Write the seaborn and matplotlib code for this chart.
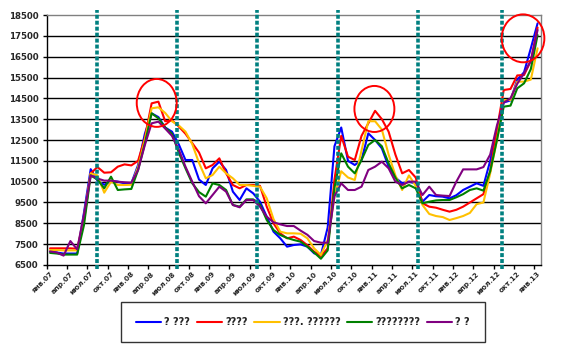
import numpy as np
import pandas as pd
import matplotlib
matplotlib.use("Agg")
import matplotlib.pyplot as plt
import seaborn as sns
from matplotlib.patches import Ellipse
from matplotlib.lines import Line2D
import matplotlib.transforms as mtransforms

# Monthly series, Jan 2007 .. Jan 2013 (73 months)
series_names = ["? ???", "????", "???. ??????", "????????", "? ?"]
series_colors = ["#0000FF", "#FF0000", "#FFC000", "#008000", "#800080"]

blue = [7150, 7100, 7050, 7050, 7050, 9000, 11100, 10550, 10350, 10530,
        10500, 10420, 10420, 11300, 12800, 13780, 13600, 13100, 12900, 12300,
        11540, 11540, 10600, 10340, 11140, 11460, 11060, 10020, 9620, 10180,
        9940, 9540, 8820, 8100, 7780, 7380, 7460, 7490, 7380, 7060,
        6980, 8300, 12200, 13100, 11500, 11300, 11540, 12820, 12500, 12100,
        11220, 10700, 10420, 10500, 10420, 9540, 9860, 9800, 9780, 9700,
        9850, 10100, 10260, 10420, 10300, 11500, 13000, 14300, 14400, 15400,
        15750, 16900, 18100]
red = [7300, 7300, 7300, 7300, 7280, 8600, 10900, 11200, 10930, 10950,
       11220, 11330, 11280, 11500, 12600, 14260, 14340, 13400, 13450, 13150,
       12800, 12350, 11900, 11140, 11300, 11620, 10900, 10340, 10180, 10340,
       10340, 10300, 9300, 8500, 8020, 7780, 7860, 7700, 7450, 7140,
       6930, 7300, 10600, 12700, 11700, 11540, 12700, 13300, 13900, 13500,
       12900, 11800, 10900, 11060, 10700, 9460, 9300, 9250, 9150, 9060,
       9150, 9300, 9500, 9700, 9900, 11000, 13000, 14900, 14950, 15600,
       15620, 16300, 17900]
yellow = [7220, 7220, 7200, 7200, 7200, 8800, 10900, 10800, 9970, 10500,
          10340, 10340, 10350, 11200, 12500, 14020, 14070, 13800, 13400, 13200,
          12900, 12300, 11400, 10660, 10820, 11220, 10900, 10660, 10340, 10340,
          10300, 10260, 9700, 8700, 8100, 8020, 8020, 8000, 7780, 7300,
          6980, 7700, 9800, 11000, 10700, 10580, 12000, 13400, 13400, 13000,
          11800, 10800, 10100, 10800, 10300, 9380, 8950, 8850, 8800, 8660,
          8750, 8850, 9000, 9420, 9500, 10900, 12500, 14420, 14420, 15300,
          15300, 15400, 16900]
green = [7080, 7050, 7000, 7000, 7000, 8400, 10800, 10600, 10180, 10740,
         10100, 10130, 10150, 11060, 12340, 13780, 13540, 13100, 12800, 11900,
         11140, 10420, 10000, 9780, 10420, 10340, 10100, 9380, 9300, 9650,
         9650, 9400, 8660, 8180, 7940, 7800, 7700, 7620, 7380, 7100,
         6800, 7200, 10200, 11860, 11220, 10900, 11540, 12260, 12500, 12200,
         11380, 10700, 10180, 10340, 10180, 9460, 9540, 9600, 9620, 9620,
         9750, 9900, 10100, 10180, 10070, 11000, 12500, 14100, 14150, 14980,
         15220, 15900, 17540]
purple = [7150, 7100, 6950, 7650, 7250, 8900, 10800, 10650, 10550, 10550,
          10500, 10470, 10450, 11060, 12260, 13300, 13380, 13050, 12700, 12050,
          11220, 10500, 9800, 9460, 9860, 10260, 10020, 9380, 9270, 9620,
          9620, 9300, 8820, 8550, 8450, 8370, 8370, 8150, 7950, 7650,
          7570, 7570, 9800, 10420, 10100, 10100, 10260, 11060, 11220, 11460,
          11140, 10500, 10340, 10500, 10500, 9860, 10260, 9860, 9830, 9810,
          10500, 11090, 11090, 11090, 11200, 11800, 13200, 14300, 14500, 15200,
          15700, 16300, 17780]

month_abbr = ["янв", "апр", "июл", "окт"]
tick_labels = [f"{m}.{y:02d}" for y in range(7, 13) for m in month_abbr] + ["янв.13"]

y_ticks = list(range(6500, 18501, 1000))

# Dotted separators and highlight rings (month index, value)
separators = [6.9, 18.75, 30.6, 42.5, 54.35, 66.7]
rings = [(15.75, 14280, 5.9, 2300), (47.9, 13990, 5.9, 2210), (69.85, 17380, 6.3, 2300)]

all_values = [blue, red, yellow, green, purple]
frames = []
for name, vals in zip(series_names, all_values):
    frames.append(pd.DataFrame({"month": np.arange(len(vals)), "value": vals, "series": name}))
df = pd.concat(frames, ignore_index=True)

sns.set_theme(style="white")
plt.rcParams["font.family"] = ["DejaVu Sans"]

fig = plt.figure(figsize=(5.61, 3.45), dpi=100)
ax = fig.add_axes([0.0832, 0.2319, 0.8811, 0.7246])

sns.lineplot(data=df, x="month", y="value", hue="series", hue_order=series_names,
             palette=series_colors, linewidth=1.5, legend=False, ax=ax, zorder=3)

n = len(blue)
ax.set_xlim(-0.5, n - 0.5)
ax.set_ylim(6500, 18500)
ax.set_yticks(y_ticks)
ax.set_yticklabels([str(v) for v in y_ticks], fontsize=6.2, fontweight="bold")
for v in y_ticks[1:-1]:
    ax.axhline(v, color="black", lw=1.0, zorder=1)

# tick marks on month-group boundaries, labels at group centres
ax.set_xticks(np.arange(-0.5, n, 3))
ax.set_xticklabels([])
ax.set_xticks(np.arange(0, n, 3), minor=True)
ax.set_xticklabels(tick_labels, minor=True, rotation=45, ha="right", va="top",
                   rotation_mode="anchor", fontsize=5.2, fontweight="bold")
shift = mtransforms.ScaledTranslation(-6 / 100, 0, fig.dpi_scale_trans)
for lbl in ax.get_xticklabels(minor=True):
    lbl.set_transform(lbl.get_transform() + shift)
ax.tick_params(axis="x", which="major", direction="out", length=3, width=1, color="black", bottom=True)
ax.tick_params(axis="x", which="minor", length=0, pad=4)
ax.tick_params(axis="y", direction="out", length=3, width=1, color="black", left=True, pad=3)
ax.set_xlabel("")
ax.set_ylabel("")

for side in ["left", "bottom"]:
    ax.spines[side].set_color("black")
    ax.spines[side].set_linewidth(1.0)
for side in ["top", "right"]:
    ax.spines[side].set_color("#808080")
    ax.spines[side].set_linewidth(1.0)

trans = mtransforms.blended_transform_factory(ax.transData, ax.transAxes)
for xs in separators:
    ax.add_line(Line2D([xs, xs], [-0.015, 1.02], transform=trans, color="#008080",
                       lw=2.6, linestyle=(0, (1.1, 0.55)), clip_on=False, zorder=4))

for cx, cy, w, h in rings:
    ax.add_patch(Ellipse((cx, cy), w, h, fill=False, edgecolor="#FF0000", lw=1.4,
                         clip_on=False, zorder=5))

handles = [Line2D([], [], color=c, lw=1.5) for c in series_colors]
leg = fig.legend(handles, series_names, loc="center", bbox_to_anchor=(0.540, 0.0667), ncol=5,
                 frameon=True, fancybox=False, handlelength=2.6, handletextpad=0.3,
                 columnspacing=0.7, borderpad=1.55, prop={"size": 7, "weight": "bold"})
leg.get_frame().set_edgecolor("black")
leg.get_frame().set_linewidth(1.0)

fig.savefig("out.png", dpi=100)
